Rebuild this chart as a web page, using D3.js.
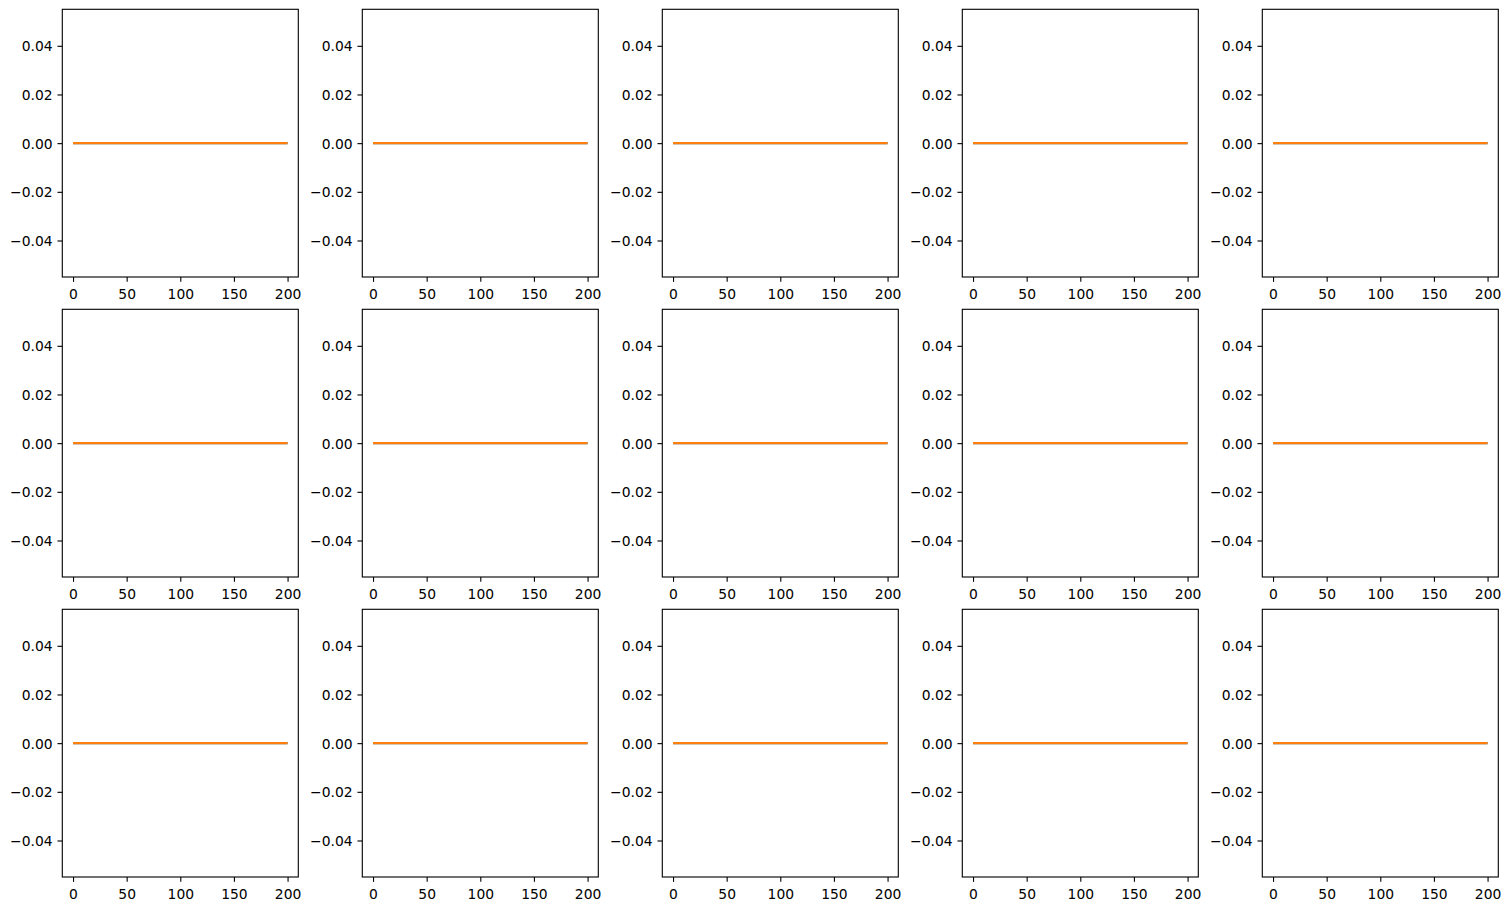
<!DOCTYPE html>
<html><head><meta charset="utf-8">
<script src="https://cdn.jsdelivr.net/npm/d3@7"></script>
<style>
body{margin:0;background:#fff;}
svg{display:block;}
text{font-family:"DejaVu Sans",sans-serif;}
</style></head>
<body>
<svg id="c" width="1511" height="911"></svg>
<script>
// Data
const panels = ["r0c0","r0c1","r0c2","r0c3","r0c4","r1c0","r1c1","r1c2","r1c3","r1c4","r2c0","r2c1","r2c2","r2c3","r2c4"];
const xValues = [0, 200];
const seriesA = [0, 0];   // hidden under seriesB
const seriesB = [0, 0];
const xTicks = [0, 50, 100, 150, 200];
const yTicks = [-0.04, -0.02, 0.00, 0.02, 0.04];
const xDomain = [-10, 210];
const yDomain = [-0.055, 0.055];

const svg = d3.select("#c");
const W = 236, H = 267.7;
const left0 = 62.3, top0 = 9.3, dx = 300, dy = 300;
const fs = 13.89, tickLen = 4.86, pad = 4.86;
const fmtY = v => (v < 0 ? "\u2212" : "") + Math.abs(v).toFixed(2);

panels.forEach((p, i) => {
  const r = Math.floor(i / 5), c = i % 5;
  const ox = left0 + c * dx, oy = top0 + r * dy;
  const g = svg.append("g").attr("transform", `translate(${ox},${oy})`);
  const x = d3.scaleLinear().domain(xDomain).range([0, W]);
  const y = d3.scaleLinear().domain(yDomain).range([H, 0]);

  const line = d3.line().x((d, j) => x(xValues[j])).y(d => y(d));
  g.append("path").datum(seriesA).attr("d", line)
    .attr("fill", "none").attr("stroke", "#1f77b4").attr("stroke-width", 2.08);
  g.append("path").datum(seriesB).attr("d", line)
    .attr("fill", "none").attr("stroke", "#ff7f0e").attr("stroke-width", 2.08);

  const xa = g.append("g").attr("transform", `translate(0,${H})`)
    .call(d3.axisBottom(x).tickValues(xTicks).tickSize(tickLen).tickPadding(pad).tickFormat(d3.format("d")));
  const ya = g.append("g")
    .call(d3.axisLeft(y).tickValues(yTicks).tickSize(tickLen).tickPadding(pad).tickFormat(fmtY));
  [xa, ya].forEach(a => {
    a.select(".domain").remove();
    a.selectAll(".tick line").attr("stroke", "#000").attr("stroke-width", 1.11);
    a.selectAll(".tick text").attr("fill", "#000").style("font-size", fs + "px").style("font-family", "DejaVu Sans");
  });
  xa.selectAll(".tick text").attr("dy", null).attr("y", tickLen + pad + 12.2);
  ya.selectAll(".tick text").attr("dy", "0.36em");

  g.append("rect").attr("x", 0).attr("y", 0).attr("width", W).attr("height", H)
    .attr("fill", "none").attr("stroke", "#000").attr("stroke-width", 1.11);
});
</script>
</body></html>
